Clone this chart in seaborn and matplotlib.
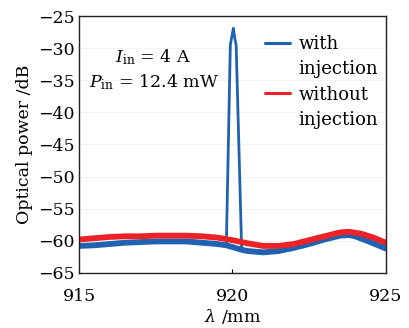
import numpy as np
import pandas as pd
import matplotlib
matplotlib.use("Agg")
import matplotlib.pyplot as plt
from matplotlib.lines import Line2D
import seaborn as sns

# wavelength (nm) and optical power (dB)
wl_with = [915.0, 915.5, 916.0, 916.5, 917.0, 917.5, 918.0, 918.5, 919.0, 919.5,
           919.8, 919.93, 919.97, 920.03, 920.08, 920.12, 920.3, 920.5, 921.0, 921.5,
           922.0, 922.5, 923.0, 923.5, 923.8, 924.0, 924.5, 925.0]
p_with = [-60.8, -60.7, -60.5, -60.3, -60.2, -60.1, -60.1, -60.1, -60.3, -60.5,
          -60.7, -29.5, -28.4, -26.9, -28.6, -29.5, -61.4, -61.6, -61.8, -61.6,
          -61.1, -60.5, -59.8, -59.2, -59.1, -59.3, -60.2, -61.2]

wl_without = [915.0, 915.5, 916.0, 916.5, 917.0, 917.5, 918.0, 918.5, 919.0, 919.5,
              920.0, 920.5, 921.0, 921.5, 922.0, 922.5, 923.0, 923.5, 923.8, 924.2,
              924.6, 925.0]
p_without = [-59.8, -59.6, -59.4, -59.3, -59.3, -59.2, -59.2, -59.2, -59.3, -59.5,
             -59.9, -60.4, -60.8, -60.8, -60.5, -59.9, -59.3, -58.7, -58.6, -58.9,
             -59.5, -60.3]

blue = '#1f63b0'
red = '#ec2227'
fs = 12.5

sns.set_style('white')
plt.rcParams['font.family'] = ['DejaVu Serif']
plt.rcParams['mathtext.fontset'] = 'dejavuserif'
plt.rcParams['text.color'] = 'black'
plt.rcParams['axes.labelcolor'] = 'black'
plt.rcParams['xtick.color'] = 'black'
plt.rcParams['ytick.color'] = 'black'

fig, ax = plt.subplots(figsize=(4.1, 3.28), dpi=100)
fig.subplots_adjust(left=0.193, right=0.941, top=0.951, bottom=0.168)

df_with = pd.DataFrame({'wl': wl_with, 'p': p_with})
df_without = pd.DataFrame({'wl': wl_without, 'p': p_without})

# thin line through the whole trace, thick band on the noisy baseline
sns.lineplot(data=df_with, x='wl', y='p', color=blue, lw=2.0, ax=ax)
base = df_with.assign(p=np.where(df_with['p'] < -55, df_with['p'], np.nan))
sns.lineplot(data=base, x='wl', y='p', color=blue, lw=4.2, ax=ax)
sns.lineplot(data=df_without, x='wl', y='p', color=red, lw=4.2, ax=ax)

ax.set_xlim(915, 925)
ax.set_ylim(-65, -25)
ax.set_xticks([915, 920, 925])
ax.set_yticks(np.arange(-65, -24, 5))
ax.grid(axis='y', color='#f3f3f3', lw=0.8)
ax.tick_params(direction='in', length=3, labelsize=fs, width=0.8,
               bottom=True, left=False, pad=3)
ax.tick_params(axis='x', pad=11)
for s in ax.spines.values():
    s.set_color('#222222')
    s.set_linewidth(1.0)

ax.set_xlabel(r'$\lambda$ /mm', fontsize=fs, labelpad=1)
ax.set_ylabel('Optical power /dB', fontsize=fs, labelpad=4)

ax.text(0.24, 0.84, r'$I_{\rm in}$ = 4 A', transform=ax.transAxes,
        fontsize=fs, ha='center', va='center')
ax.text(0.245, 0.743, r'$P_{\rm in}$ = 12.4 mW', transform=ax.transAxes,
        fontsize=fs, ha='center', va='center')

none = Line2D([], [], color='none')
handles = [Line2D([], [], color=blue, lw=2.2), none,
           Line2D([], [], color=red, lw=2.2), none]
labels = ['with', 'injection', 'without', 'injection']
ax.legend(handles, labels, loc='upper left', bbox_to_anchor=(0.606, 0.927),
          frameon=False, fontsize=fs + 0.5, handlelength=1.4, handletextpad=0.45,
          labelspacing=0.41, borderaxespad=0, borderpad=0)

fig.savefig('out.png', dpi=100)
